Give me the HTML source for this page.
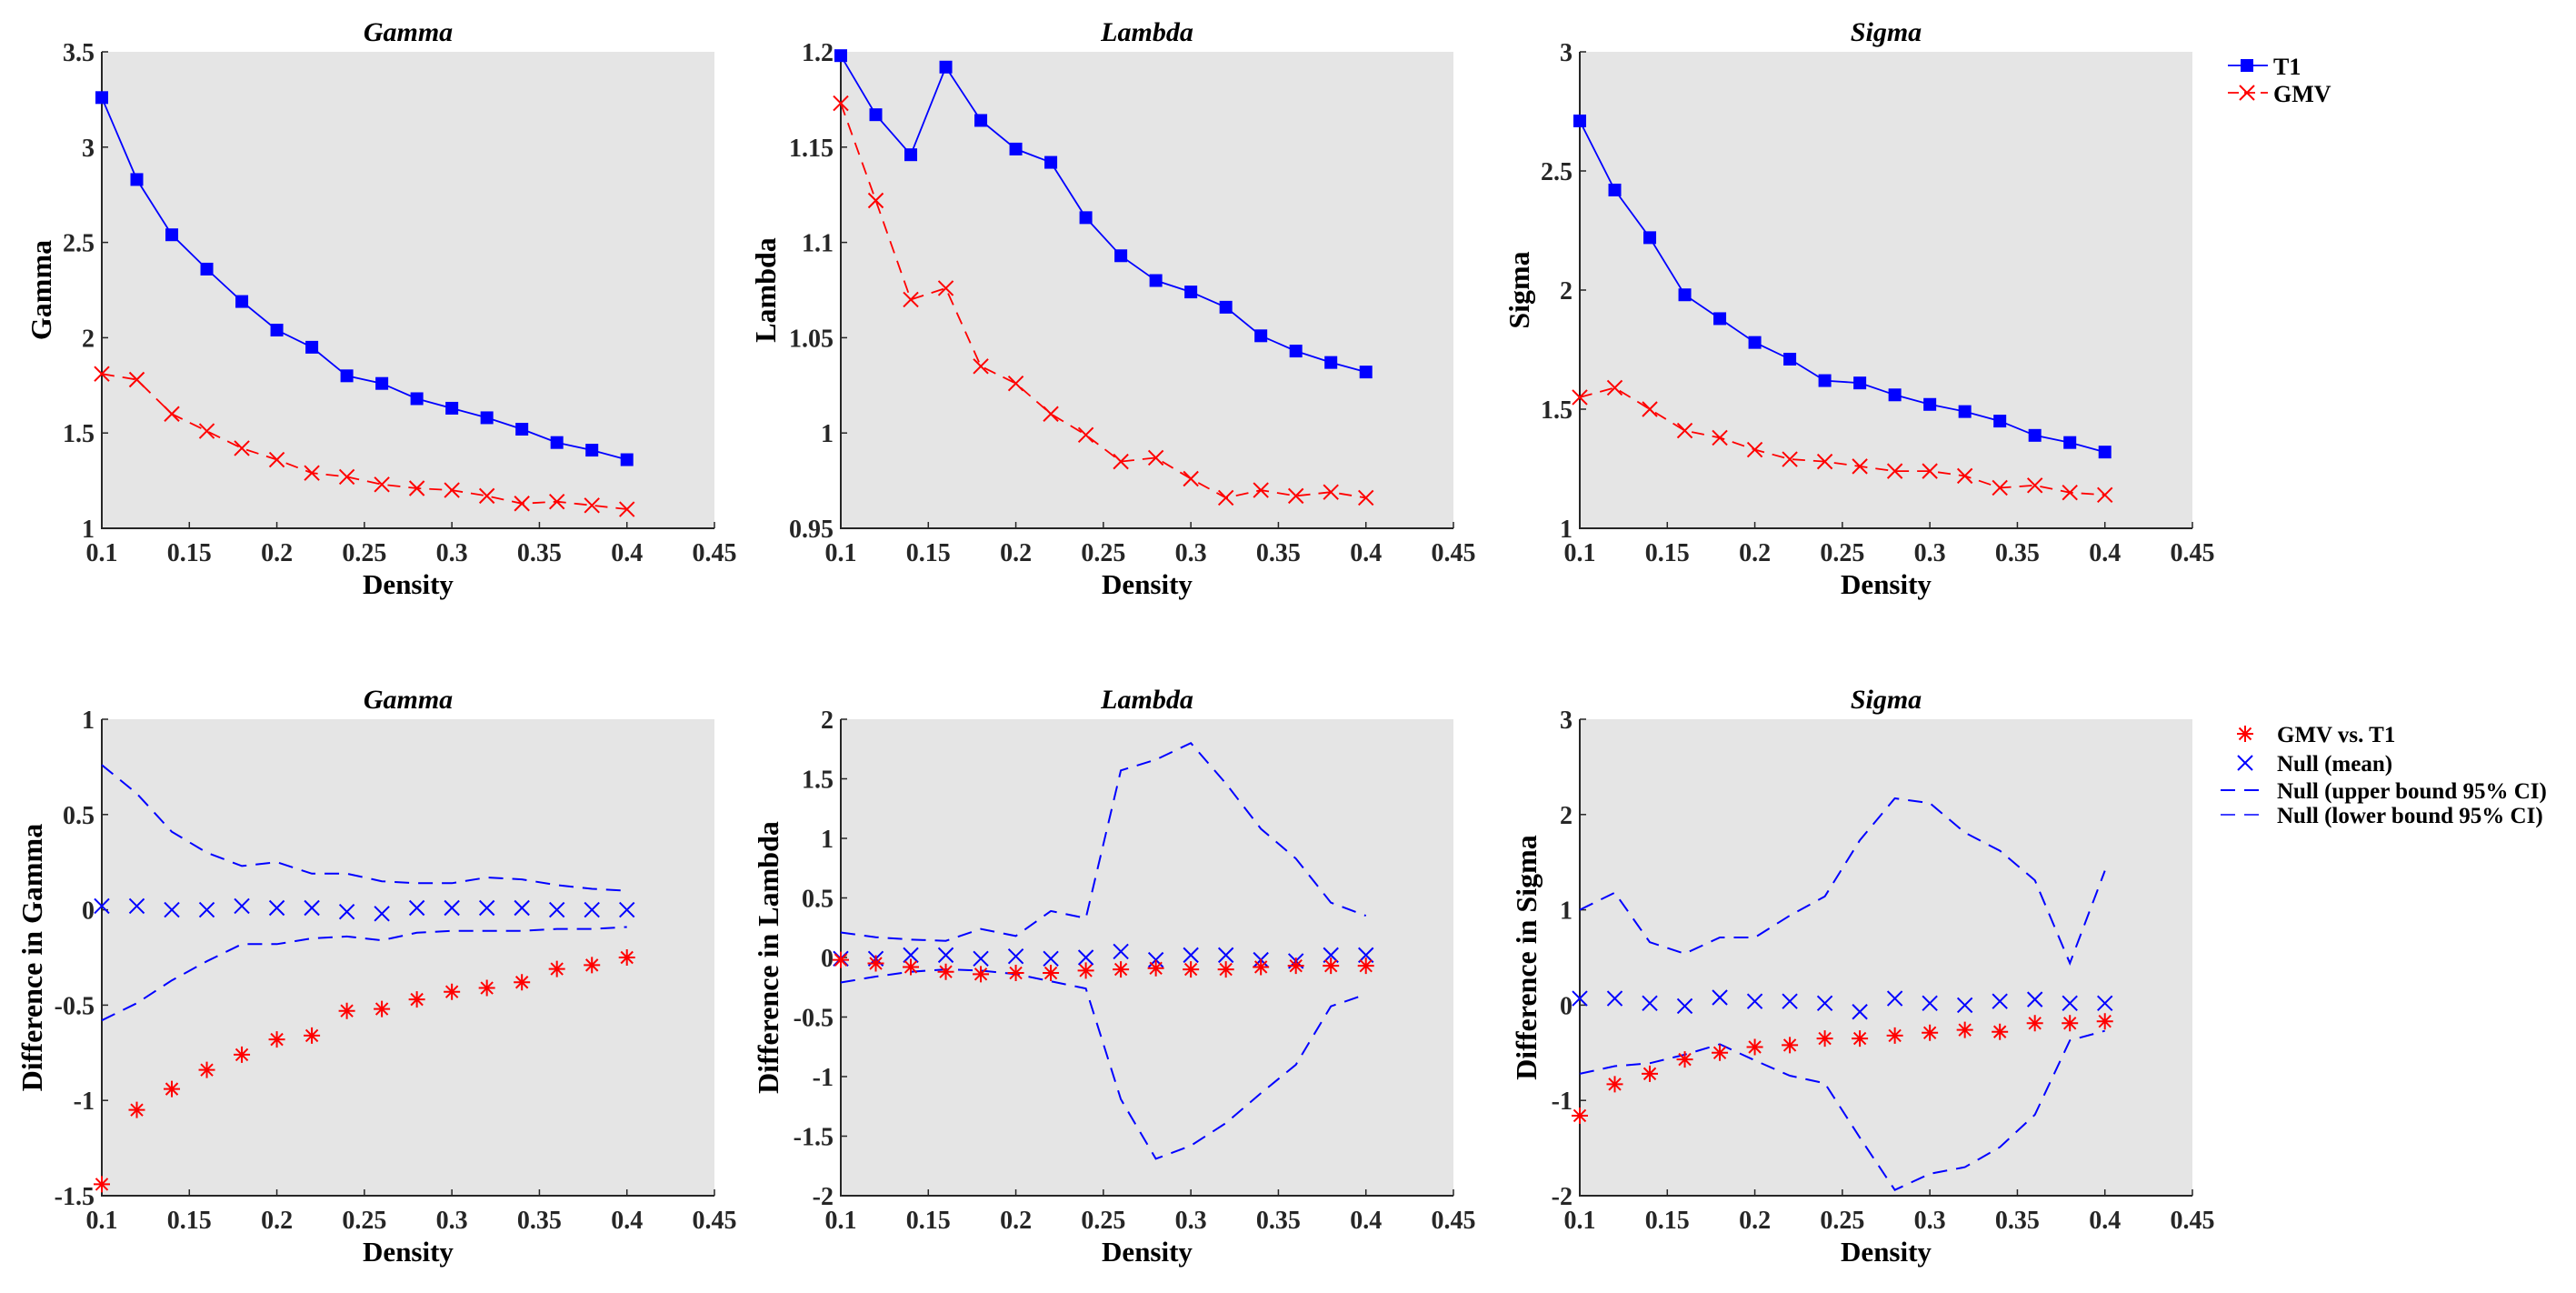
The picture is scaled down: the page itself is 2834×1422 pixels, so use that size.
<!DOCTYPE html>
<html><head><meta charset="utf-8"><style>
html,body{margin:0;padding:0;background:#fff;}
svg text{font-family:"Liberation Serif","Times New Roman",serif;}
</style></head><body>
<svg id="fig" width="2834" height="1417" viewBox="0 0 2834 1417" xmlns="http://www.w3.org/2000/svg"></svg>
<script>
const density=[0.1,0.12,0.14,0.16,0.18,0.2,0.22,0.24,0.26,0.28,0.3,0.32,0.34,0.36,0.38,0.4];
const xTicks=[0.1,0.15,0.2,0.25,0.3,0.35,0.4,0.45];
const xTickLabels=["0.1","0.15","0.2","0.25","0.3","0.35","0.4","0.45"];
// top row
const gammaT1=[3.26,2.83,2.54,2.36,2.19,2.04,1.95,1.80,1.76,1.68,1.63,1.58,1.52,1.45,1.41,1.36];
const gammaGMV=[1.81,1.78,1.60,1.51,1.42,1.36,1.29,1.27,1.23,1.21,1.20,1.17,1.13,1.14,1.12,1.10];
const lambdaT1=[1.198,1.167,1.146,1.192,1.164,1.149,1.142,1.113,1.093,1.080,1.074,1.066,1.051,1.043,1.037,1.032];
const lambdaGMV=[1.173,1.122,1.070,1.076,1.035,1.026,1.010,0.999,0.985,0.987,0.976,0.966,0.970,0.967,0.969,0.966];
const sigmaT1=[2.71,2.42,2.22,1.98,1.88,1.78,1.71,1.62,1.61,1.56,1.52,1.49,1.45,1.39,1.36,1.32];
const sigmaGMV=[1.55,1.59,1.50,1.41,1.38,1.33,1.29,1.28,1.26,1.24,1.24,1.22,1.17,1.18,1.15,1.14];
// bottom row
const gammaDiff=[-1.44,-1.05,-0.94,-0.84,-0.76,-0.68,-0.66,-0.53,-0.52,-0.47,-0.43,-0.41,-0.38,-0.31,-0.29,-0.25];
const gammaNullMean=[0.02,0.02,0,0,0.02,0.01,0.01,-0.01,-0.02,0.01,0.01,0.01,0.01,0,0,0];
const gammaUpper=[0.76,0.61,0.41,0.30,0.23,0.25,0.19,0.19,0.15,0.14,0.14,0.17,0.16,0.13,0.11,0.10];
const gammaLower=[-0.58,-0.49,-0.37,-0.27,-0.18,-0.18,-0.15,-0.14,-0.16,-0.12,-0.11,-0.11,-0.11,-0.10,-0.10,-0.09];
const lambdaDiff=[-0.02,-0.05,-0.08,-0.12,-0.14,-0.13,-0.13,-0.11,-0.10,-0.09,-0.10,-0.10,-0.08,-0.07,-0.07,-0.07];
const lambdaNullMean=[-0.01,-0.01,0.02,0.02,-0.01,0.01,-0.01,0,0.05,-0.02,0.02,0.02,-0.02,-0.03,0.02,0.02];
const lambdaUpper=[0.21,0.17,0.15,0.14,0.24,0.18,0.39,0.33,1.57,1.66,1.80,1.46,1.08,0.83,0.46,0.35];
const lambdaLower=[-0.21,-0.16,-0.12,-0.10,-0.11,-0.14,-0.20,-0.26,-1.19,-1.69,-1.58,-1.39,-1.14,-0.90,-0.41,-0.31];
const sigmaDiff=[-1.16,-0.83,-0.72,-0.57,-0.50,-0.44,-0.42,-0.35,-0.35,-0.32,-0.29,-0.26,-0.28,-0.19,-0.19,-0.17];
const sigmaNullMean=[0.07,0.07,0.02,-0.01,0.08,0.04,0.04,0.02,-0.07,0.07,0.02,0,0.04,0.06,0.02,0.02];
const sigmaUpper=[1.0,1.18,0.66,0.54,0.71,0.71,0.94,1.14,1.73,2.17,2.12,1.81,1.62,1.31,0.44,1.41];
const sigmaLower=[-0.72,-0.64,-0.61,-0.52,-0.41,-0.58,-0.74,-0.82,-1.39,-1.94,-1.77,-1.70,-1.49,-1.15,-0.37,-0.27];
const gammaTopTicks=[1,1.5,2,2.5,3,3.5];
const lambdaTopTicks=[0.95,1,1.05,1.1,1.15,1.2];
const sigmaTopTicks=[1,1.5,2,2.5,3];
const gammaBotTicks=[-1.5,-1,-0.5,0,0.5,1];
const lambdaBotTicks=[-2,-1.5,-1,-0.5,0,0.5,1,1.5,2];
const sigmaBotTicks=[-2,-1,0,1,2,3];

const NS="http://www.w3.org/2000/svg";
const FONT='"Liberation Serif", "Times New Roman", serif';
const svg=document.getElementById('fig');
function mk(tag,attrs,parent){const e=document.createElementNS(NS,tag);for(const k in attrs)e.setAttribute(k,attrs[k]);(parent||svg).appendChild(e);return e;}
function txt(s,attrs,parent){attrs['font-family']=FONT;const e=mk('text',attrs,parent);e.style.fontFamily=FONT;e.textContent=s;return e;}
const PW=674,PH=524;
function fmt(v){return String(parseFloat(v.toFixed(2)));}

function panel(name,left,top,ymin,ymax,yticks,title,ylabel,yoff){
  const g=mk('g',{});
  
  
  const sx=v=>left+(v-0.1)/0.35*PW;
  const sy=v=>top+PH-(v-ymin)/(ymax-ymin)*PH;
  const bg=mk('rect',{x:left,y:top,width:PW,height:PH,fill:'#e5e5e5'},g);
  
  
  const ax=mk('path',{d:`M${left},${top}V${top+PH}H${left+PW}`,stroke:'#262626','stroke-width':2,fill:'none'},g);
  
  
  xTicks.forEach((t,i)=>{
    const x=sx(t);
    mk('line',{x1:x,x2:x,y1:top+PH,y2:top+PH-7,stroke:'#262626','stroke-width':1.5},g);
    const l=txt(xTickLabels[i],{x:x,y:top+PH+36,'text-anchor':'middle','font-size':28,'font-weight':'bold',fill:'#262626'},g);
    
    
  });
  yticks.forEach(t=>{
    const y=sy(t);
    mk('line',{x1:left,x2:left+7,y1:y,y2:y,stroke:'#262626','stroke-width':1.5},g);
    const l=txt(fmt(t),{x:left-8,y:y+10,'text-anchor':'end','font-size':28,'font-weight':'bold',fill:'#262626'},g);
    
    
  });
  const tt=txt(title,{x:left+PW/2,y:top-12,'text-anchor':'middle','font-size':30,'font-weight':'bold','font-style':'italic',fill:'#000'},g);
  
  
  const xl=txt('Density',{x:left+PW/2,y:top+PH+72,'text-anchor':'middle','font-size':31,'font-weight':'bold',fill:'#000'},g);
  
  
  const yx=left-yoff;
  const yl=txt(ylabel,{x:yx,y:top+PH/2,'text-anchor':'middle','font-size':32,'font-weight':'bold',fill:'#000',transform:`rotate(-90 ${yx} ${top+PH/2})`,dy:11},g);
  
  
  return {g,sx,sy};
}
function line(p,vals,color,dash,w,name){
  const d=vals.map((v,i)=>(i?'L':'M')+p.sx(density[i]).toFixed(1)+','+p.sy(v).toFixed(1)).join('');
  const e=mk('path',{d:d,stroke:color,'stroke-width':w,fill:'none','stroke-dasharray':dash||'none'},p.g);
  
  
}
function square(g,x,y,name){const e=mk('rect',{x:x-7,y:y-7,width:14,height:14,fill:'#0000ff'},g);}
function cross(g,x,y,color,name){const s=8;const e=mk('path',{d:`M${x-s},${y-s}L${x+s},${y+s}M${x-s},${y+s}L${x+s},${y-s}`,stroke:color,'stroke-width':2,fill:'none'},g);}
function star(g,x,y,name){const s=9,d=6.5;const e=mk('path',{d:`M${x-s},${y}H${x+s}M${x},${y-s}V${y+s}M${x-d},${y-d}L${x+d},${y+d}M${x-d},${y+d}L${x+d},${y-d}`,stroke:'#ff0000','stroke-width':2,fill:'none'},g);}

const lefts=[112,925,1738];
const topOff=[67,83,67];
const botOff=[77,80,59];
const topRow=[
 ['gamma-top',gammaT1,gammaGMV,1,3.5,gammaTopTicks,'Gamma','Gamma'],
 ['lambda-top',lambdaT1,lambdaGMV,0.95,1.2,lambdaTopTicks,'Lambda','Lambda'],
 ['sigma-top',sigmaT1,sigmaGMV,1,3,sigmaTopTicks,'Sigma','Sigma']];
topRow.forEach((c,k)=>{
  const p=panel(c[0],lefts[k],57,c[3],c[4],c[5],c[6],c[7],topOff[k]);
  line(p,c[2],'#ff0000','14 9',1.8,'gmv-line');
  line(p,c[1],'#0000ff',null,1.8,'t1-line');
  c[2].forEach((v,i)=>cross(p.g,p.sx(density[i]),p.sy(v),'#ff0000','gmv-point'));
  c[1].forEach((v,i)=>square(p.g,p.sx(density[i]),p.sy(v),'t1-point'));
});
const botRow=[
 ['gamma-diff',gammaDiff,gammaNullMean,gammaUpper,gammaLower,-1.5,1,gammaBotTicks,'Gamma','Difference in Gamma'],
 ['lambda-diff',lambdaDiff,lambdaNullMean,lambdaUpper,lambdaLower,-2,2,lambdaBotTicks,'Lambda','Difference in Lambda'],
 ['sigma-diff',sigmaDiff,sigmaNullMean,sigmaUpper,sigmaLower,-2,3,sigmaBotTicks,'Sigma','Difference in Sigma']];
botRow.forEach((c,k)=>{
  const p=panel(c[0],lefts[k],791,c[5],c[6],c[7],c[8],c[9],botOff[k]);
  line(p,c[3],'#0000ff','16 10',2,'null-upper-line');
  line(p,c[4],'#0000ff','16 10',2,'null-lower-line');
  c[2].forEach((v,i)=>cross(p.g,p.sx(density[i]),p.sy(v),'#0000ff','null-mean-point'));
  c[1].forEach((v,i)=>star(p.g,p.sx(density[i]),p.sy(v),'gmv-vs-t1-point'));
});

// top legend
const lg=mk('g',{});


mk('line',{x1:2451,x2:2495,y1:72,y2:72,stroke:'#0000ff','stroke-width':1.8},lg);
square(lg,2472,72,'legend-t1-marker');
const lt1=txt('T1',{x:2501,y:82,'font-size':26,'font-weight':'bold'},lg);


mk('line',{x1:2451,x2:2495,y1:102,y2:102,stroke:'#ff0000','stroke-width':1.8,'stroke-dasharray':'12 6'},lg);
cross(lg,2472,102,'#ff0000','legend-gmv-marker');
const lt2=txt('GMV',{x:2501,y:112,'font-size':26,'font-weight':'bold'},lg);



// bottom legend
const lb=mk('g',{});


star(lb,2470,807,'legend-star-marker');
cross(lb,2470,839,'#0000ff','legend-x-marker');
mk('line',{x1:2443,x2:2490,y1:869,y2:869,stroke:'#0000ff','stroke-width':2,'stroke-dasharray':'16 10'},lb);
mk('line',{x1:2443,x2:2490,y1:896,y2:896,stroke:'#0000ff','stroke-width':1.5,'stroke-dasharray':'16 10'},lb);
const labs=['GMV vs. T1','Null (mean)','Null (upper bound 95% CI)','Null (lower bound 95% CI)'];
const ys=[816,848,878,905];
labs.forEach((s,i)=>{
  const e=txt(s,{x:2505,y:ys[i],'font-size':25,'font-weight':'bold'},lb);
  
  
});
</script>
</body></html>
